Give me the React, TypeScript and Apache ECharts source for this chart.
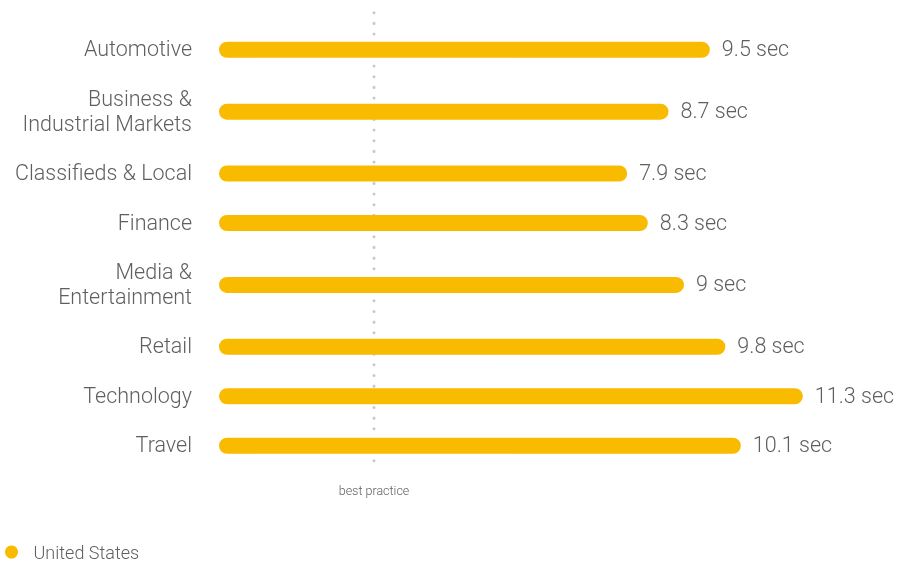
import React, { useEffect, useRef } from "react";
import * as echarts from "echarts";

const categories: string[] = [
  "Automotive",
  "Business &\nIndustrial Markets",
  "Classifieds & Local",
  "Finance",
  "Media &\nEntertainment",
  "Retail",
  "Technology",
  "Travel",
];
const loadTimes: number[] = [9.5, 8.7, 7.9, 8.3, 9, 9.8, 11.3, 10.1];
const bestPractice = 3;
const bestPracticeLabel = "best practice";
const seriesName = "United States";
const unit = " sec";

const BAR_COLOR = "#F9BB00";
const TEXT_COLOR = "#5f5f5f";
const FONT = "Roboto";

export default function App() {
  const ref = useRef<HTMLDivElement>(null);
  useEffect(() => {
    if (!ref.current) return;
    const chart = echarts.init(ref.current, undefined, { renderer: "svg" });

    // row layout: one-line labels take 2 units, two-line labels take 3 units
    let acc = 0;
    const rows = categories.map((c, i) => {
      const units = c.split("\n").length > 1 ? 3 : 2;
      const center = acc + units / 2;
      acc += units;
      return [loadTimes[i], center];
    });
    const total = acc;

    const option: any = {
      animation: false,
      grid: { left: 219, right: 58, top: 25, height: 445.5, containLabel: false },
      xAxis: { type: "value", min: 0, max: 12, show: false },
      yAxis: { type: "value", min: 0, max: total, inverse: true, show: false },
      legend: {
        data: [seriesName],
        left: 5,
        top: 543,
        padding: 0,
        icon: "circle",
        itemWidth: 22,
        itemHeight: 13,
        textStyle: {
          fontFamily: FONT,
          fontSize: 18,
          fontWeight: 300,
          lineHeight: 18,
          color: TEXT_COLOR,
          padding: [0, 0, 0, 6],
        },
      },
      series: [
        {
          type: "line",
          name: bestPracticeLabel,
          clip: false,
          z: 1,
          symbol: "circle",
          symbolSize: 0,
          showSymbol: true,
          silent: true,
          lineStyle: { color: "#c9c9c9", width: 3, type: [0.1, 10.57], cap: "round" },
          data: [
            [bestPractice, -0.5],
            {
              value: [bestPractice, total - 0.1],
              label: {
                show: true,
                position: "bottom",
                distance: 16,
                formatter: bestPracticeLabel,
                fontFamily: FONT,
                fontSize: 12.5,
                fontWeight: 300,
                color: TEXT_COLOR,
              },
            },
          ],
        },
        {
          type: "custom",
          name: seriesName,
          z: 2,
          itemStyle: { color: BAR_COLOR },
          clip: false,
          encode: { x: 0, y: 1 },
          data: rows,
          renderItem: (params: any, api: any) => {
            const v = api.value(0);
            const p = api.value(1);
            const s = api.coord([0, p]);
            const e = api.coord([v, p]);
            const h = 16;
            return {
              type: "group",
              children: [
                {
                  type: "rect",
                  shape: { x: s[0], y: s[1] - h / 2, width: e[0] - s[0], height: h, r: h / 2 },
                  style: { fill: BAR_COLOR },
                },
                {
                  type: "text",
                  x: e[0] + 12,
                  y: e[1] - 1,
                  style: {
                    text: String(v) + unit,
                    fill: TEXT_COLOR,
                    fontFamily: FONT,
                    fontSize: 21.5,
                    fontWeight: 300,
                    align: "left",
                    verticalAlign: "middle",
                  },
                },
                {
                  type: "text",
                  x: s[0] - 27,
                  y: s[1] - 1,
                  style: {
                    text: categories[params.dataIndex],
                    fill: TEXT_COLOR,
                    fontFamily: FONT,
                    fontSize: 21.5,
                    fontWeight: 300,
                    lineHeight: 25,
                    align: "right",
                    verticalAlign: "middle",
                  },
                },
              ],
            };
          },
        },
      ],
    };
    chart.setOption(option);
    return () => chart.dispose();
  }, []);
  return (
    <div
      ref={ref}
      style={{ position: "fixed", left: 0, top: 0, width: 897, height: 565 }}
    />
  );
}
